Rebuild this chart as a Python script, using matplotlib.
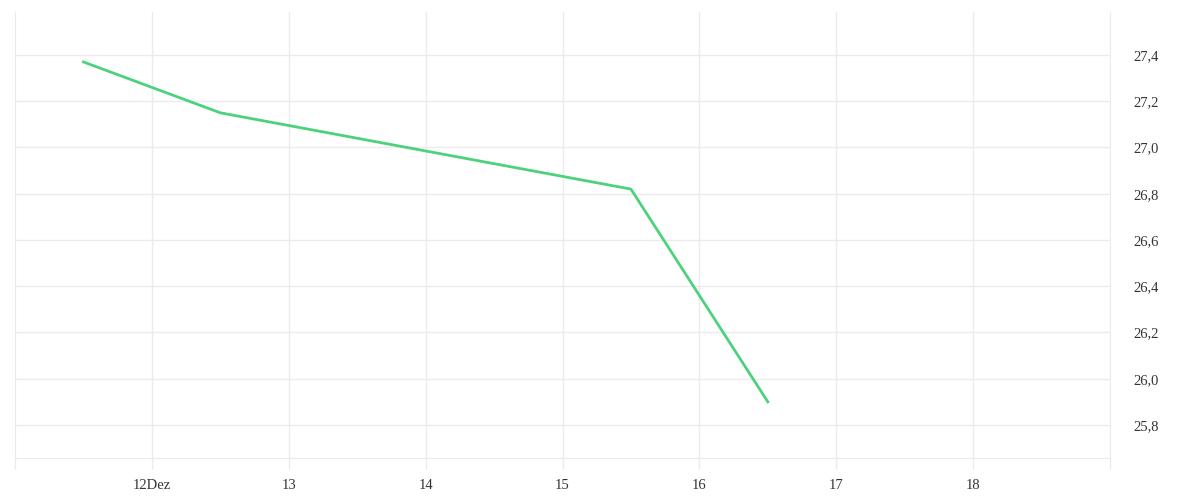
import matplotlib
matplotlib.use("Agg")
import matplotlib.pyplot as plt
from matplotlib.ticker import FuncFormatter, FixedLocator

# === DATA ===
days = [11.5, 12.5, 15.5, 16.5]          # Dezember, Tagesmitte
values = [27.37, 27.15, 26.82, 25.90]
x_ticks = [12, 13, 14, 15, 16, 17, 18]
x_labels = ["12Dez", "13", "14", "15", "16", "17", "18"]
y_ticks = [25.8, 26.0, 26.2, 26.4, 26.6, 26.8, 27.0, 27.2, 27.4]

GRID = "#ebebeb"
LINE = "#4cd27c"

plt.rcParams["font.family"] = ["Liberation Serif", "DejaVu Serif"]

fig = plt.figure(figsize=(12, 5), dpi=100)
ax = fig.add_axes([0.0125, 0.084, 0.9125, 0.892])

ax.plot(days, values, color=LINE, lw=2.0, solid_joinstyle="round")

ax.set_xlim(11, 19)
ax.set_ylim(25.657, 27.586)

ax.xaxis.set_major_locator(FixedLocator(x_ticks))
ax.set_xticklabels(x_labels)
ax.xaxis.set_minor_locator(FixedLocator([11, 19]))
ax.set_yticks(y_ticks)
ax.yaxis.set_major_formatter(FuncFormatter(lambda v, p: f"{v:.1f}".replace(".", ",")))
ax.yaxis.tick_right()

ax.grid(True, color=GRID, lw=1)
ax.tick_params(axis="x", which="both", length=8, color=GRID, width=1, pad=7,
               labelsize=10.5, labelcolor="#333333")
ax.tick_params(axis="y", length=0, pad=17, labelsize=10.5, labelcolor="#333333")

for side in ["left", "right", "bottom"]:
    ax.spines[side].set_color(GRID)
ax.spines["top"].set_visible(False)

fig.savefig("out.png", dpi=100)
